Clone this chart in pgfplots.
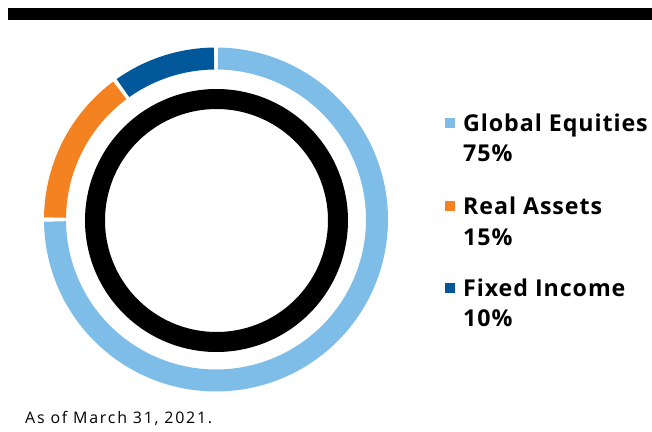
\documentclass[border=0pt]{standalone}
\usepackage{pgfplots}
\pgfplotsset{compat=1.18}
\usepackage{pgfplotstable}
\usepackage{fontspec}
\setmainfont{Open Sans}
\newfontfamily\legfont[LetterSpace=4]{Open Sans}
\newfontfamily\notefont[LetterSpace=11]{Open Sans}
\definecolor{ge}{HTML}{7DBDE8}
\definecolor{ra}{HTML}{F58220}
\definecolor{fi}{HTML}{00589A}
\pgfplotstableread{
name pct
GE 75
RA 15
FI 10
}\shares
\pgfplotstablegetelem{0}{pct}\of\shares \let\pGE\pgfplotsretval
\pgfplotstablegetelem{1}{pct}\of\shares \let\pRA\pgfplotsretval
\pgfplotstablegetelem{2}{pct}\of\shares \let\pFI\pgfplotsretval
\pgfmathsetmacro{\aZ}{90}
\pgfmathsetmacro{\aA}{90-3.6*\pGE}
\pgfmathsetmacro{\aB}{\aA-3.6*\pRA}
\pgfmathsetmacro{\aC}{\aB-3.6*\pFI}
\def\g{0.7}
\begin{document}
\begin{tikzpicture}
\useasboundingbox (0,0) rectangle (652bp,432bp);
\begin{axis}[
  at={(0,0)}, anchor=south west,
  width=652bp, height=432bp, scale only axis,
  xmin=0, xmax=652, ymin=0, ymax=432, y dir=reverse,
  axis lines=none, clip=false,
]
% top bar
\fill[black] (axis cs:8,8) rectangle (axis cs:652,20);
% outer ring segments
\addplot[color=ge, line width=22bp, line cap=butt, domain={\aA+\g}:{\aZ-\g}, samples=200, variable=\t]
  ({216+161*cos(t)},{219.5-161*sin(t)});
\addplot[color=ra, line width=22bp, line cap=butt, domain={\aB+\g}:{\aA-\g}, samples=60, variable=\t]
  ({216+161*cos(t)},{219.5-161*sin(t)});
\addplot[color=fi, line width=22bp, line cap=butt, domain={\aC+\g}:{\aB-\g}, samples=60, variable=\t]
  ({216+161*cos(t)},{219.5-161*sin(t)});
% inner black ring
\addplot[color=black, line width=20bp, domain=0:360, samples=240, variable=\t]
  ({216.5+121.5*cos(t)},{220.5-121.5*sin(t)});
% legend squares
\addplot[only marks, mark=square*, mark size=4.6bp, color=ge, mark options={draw=none}] coordinates {(450,122.8)};
\addplot[only marks, mark=square*, mark size=4.6bp, color=ra, mark options={draw=none}] coordinates {(450,205.5)};
\addplot[only marks, mark=square*, mark size=4.6bp, color=fi, mark options={draw=none}] coordinates {(450,287.5)};
% legend text
\tikzset{leg/.style={anchor=base west, inner sep=0, font=\legfont\fontsize{23.3}{27}\selectfont\bfseries}}
\node[leg] at (axis cs:463,131.7) {Global Equities};
\node[leg] at (axis cs:463,161.7) {75\%};
\node[leg] at (axis cs:463,214) {Real Assets};
\node[leg] at (axis cs:463,245) {15\%};
\node[leg] at (axis cs:463,296) {Fixed Income};
\node[leg] at (axis cs:463,326.5) {10\%};
% footnote
\node[anchor=base west, inner sep=0, font=\notefont\fontsize{16}{19}\selectfont] at (axis cs:25,423) {As of March 31, 2021.};
\end{axis}
\end{tikzpicture}
\end{document}
